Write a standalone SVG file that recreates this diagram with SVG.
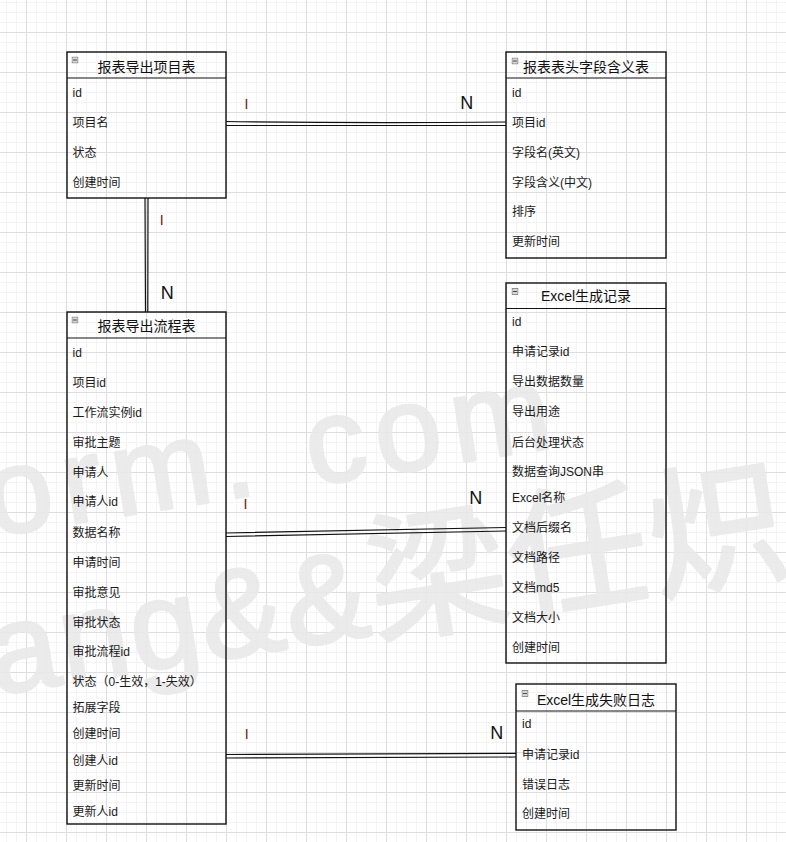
<svg xmlns="http://www.w3.org/2000/svg" xmlns:xlink="http://www.w3.org/1999/xlink" width="786" height="842" viewBox="0 0 786 842">
  <style>
    .txt { font-family: "Liberation Sans", "Noto Sans CJK SC", sans-serif; }
    .box { fill: none; stroke: #111; stroke-width: 1.4; }
    .sep { stroke: #111; stroke-width: 1.2; }
    .title { font-size: 14px; fill: #111; text-anchor: middle; }
    .fld { font-size: 12px; fill: #1a1a1a; }
    .wire { fill: none; stroke: #111; stroke-width: 1.2; }
    .one { font-size: 14px; fill: #6e1a12; text-anchor: middle; }
    .many { font-size: 18px; fill: #111; text-anchor: middle; }
    .wm { font-family: "Liberation Sans", "Noto Sans CJK SC", sans-serif; fill: #e9e9e9; stroke: #e9e9e9; stroke-width: 3; stroke-linejoin: round; opacity: 0.9; }
  </style>
  <defs>
    <pattern id="grid" patternUnits="userSpaceOnUse" x="26" y="32" width="40" height="40">
      <path d="M10.5 0V40M20.5 0V40M30.5 0V40M0 10.5H40M0 20.5H40M0 30.5H40" stroke="#f3f3f3" stroke-width="1" fill="none"/>
      <path d="M0.5 0V40M0 0.5H40" stroke="#dedede" stroke-width="1" fill="none"/>
    </pattern>
    <symbol id="collapse" viewBox="0 0 7 7">
      <rect x="0.5" y="0.5" width="6" height="6" fill="#d6d6d6" stroke="#7a7a7a" stroke-width="0.8"/>
      <path d="M1.6 3.5H5.4" stroke="#333" stroke-width="0.9"/>
    </symbol>
  </defs>

  <!-- canvas -->
  <rect width="786" height="842" fill="#fff"/>
  <rect width="786" height="842" fill="url(#grid)"/>

  <!-- watermark -->
  <g id="watermark" class="wm">
    <text x="-8" y="535" font-size="120" letter-spacing="10" transform="rotate(-9 0 535)">orm. com</text>
    <text x="-5" y="694" font-size="125" letter-spacing="2" transform="rotate(-9 0 694)">ang&amp;&amp;<tspan font-size="140">梁任炽</tspan></text>
  </g>

  <!-- relationships -->
  <g id="connectors">
    <path class="wire" d="M226 121.5Q366 123.5 506 122M226 125.5Q366 125.5 506 125.5"/>
    <path class="wire" d="M145 198L145.5 312M148 198L147.8 312"/>
    <path class="wire" d="M226 533L506 527.5M226 536.5L506 531"/>
    <path class="wire" d="M226 754.5L516 753.3M226 758L516 757"/>
    <g class="txt">
      <text class="one" x="246.5" y="108.5">I</text>
      <text class="many" x="466.7" y="109">N</text>
      <text class="one" x="161.7" y="224.5">I</text>
      <text class="many" x="167.2" y="298.5">N</text>
      <text class="one" x="245.5" y="508.5">I</text>
      <text class="many" x="475.7" y="504">N</text>
      <text class="one" x="246.7" y="738.5">I</text>
      <text class="many" x="496.7" y="739">N</text>
    </g>
  </g>

  <!-- 报表导出项目表 -->
  <g id="project" class="txt">
    <rect class="box" x="67" y="52" width="159" height="146"/>
    <line class="sep" x1="67" y1="78" x2="226" y2="78"/>
    <use xlink:href="#collapse" x="71.5" y="56.5" width="7" height="7"/>
    <text class="title" x="146.5" y="72">报表导出项目表</text>
    <text class="fld" x="72.5" y="97">id</text>
    <text class="fld" x="72.5" y="126.5">项目名</text>
    <text class="fld" x="72.5" y="156.5">状态</text>
    <text class="fld" x="72.5" y="186.5">创建时间</text>
  </g>

  <!-- 报表表头字段含义表 -->
  <g id="header-fields" class="txt">
    <rect class="box" x="506" y="52" width="160" height="206"/>
    <line class="sep" x1="506" y1="78" x2="666" y2="78"/>
    <use xlink:href="#collapse" x="511.5" y="57.5" width="7" height="7"/>
    <text class="title" x="586" y="72">报表表头字段含义表</text>
    <text class="fld" x="512" y="97">id</text>
    <text class="fld" x="512" y="127">项目id</text>
    <text class="fld" x="512" y="157">字段名(英文)</text>
    <text class="fld" x="512" y="186.5">字段含义(中文)</text>
    <text class="fld" x="512" y="215.5">排序</text>
    <text class="fld" x="512" y="246">更新时间</text>
  </g>

  <!-- 报表导出流程表 -->
  <g id="flow" class="txt">
    <rect class="box" x="67" y="312" width="159" height="512"/>
    <line class="sep" x1="67" y1="338" x2="226" y2="338"/>
    <use xlink:href="#collapse" x="71.5" y="316.5" width="7" height="7"/>
    <text class="title" x="146.5" y="331">报表导出流程表</text>
    <text class="fld" x="72.5" y="357">id</text>
    <text class="fld" x="72.5" y="387">项目id</text>
    <text class="fld" x="72.5" y="417">工作流实例id</text>
    <text class="fld" x="72.5" y="446.5">审批主题</text>
    <text class="fld" x="72.5" y="476.5">申请人</text>
    <text class="fld" x="72.5" y="506">申请人id</text>
    <text class="fld" x="72.5" y="537">数据名称</text>
    <text class="fld" x="72.5" y="566.5">申请时间</text>
    <text class="fld" x="72.5" y="597">审批意见</text>
    <text class="fld" x="72.5" y="627">审批状态</text>
    <text class="fld" x="72.5" y="656">审批流程id</text>
    <text class="fld" x="72.5" y="686">状态（0-生效，1-失效）</text>
    <text class="fld" x="72.5" y="712">拓展字段</text>
    <text class="fld" x="72.5" y="738">创建时间</text>
    <text class="fld" x="72.5" y="764.5">创建人id</text>
    <text class="fld" x="72.5" y="789.5">更新时间</text>
    <text class="fld" x="72.5" y="815.5">更新人id</text>
  </g>

  <!-- Excel生成记录 -->
  <g id="excel-record" class="txt">
    <rect class="box" x="506" y="283" width="160" height="380"/>
    <line class="sep" x1="506" y1="308.5" x2="666" y2="308.5"/>
    <use xlink:href="#collapse" x="511.5" y="288" width="7" height="7"/>
    <text class="title" x="586" y="301">Excel生成记录</text>
    <text class="fld" x="512" y="326">id</text>
    <text class="fld" x="512" y="356">申请记录id</text>
    <text class="fld" x="512" y="386">导出数据数量</text>
    <text class="fld" x="512" y="416">导出用途</text>
    <text class="fld" x="512" y="446.5">后台处理状态</text>
    <text class="fld" x="512" y="476">数据查询JSON串</text>
    <text class="fld" x="512" y="501.5">Excel名称</text>
    <text class="fld" x="512" y="531.5">文档后缀名</text>
    <text class="fld" x="512" y="561.5">文档路径</text>
    <text class="fld" x="512" y="591.5">文档md5</text>
    <text class="fld" x="512" y="621.5">文档大小</text>
    <text class="fld" x="512" y="651.5">创建时间</text>
  </g>

  <!-- Excel生成失败日志 -->
  <g id="excel-fail-log" class="txt">
    <rect class="box" x="516" y="684" width="160" height="146"/>
    <line class="sep" x1="516" y1="711" x2="676" y2="711"/>
    <use xlink:href="#collapse" x="521.5" y="690" width="7" height="7"/>
    <text class="title" x="596" y="705">Excel生成失败日志</text>
    <text class="fld" x="522" y="727.5">id</text>
    <text class="fld" x="522" y="758.5">申请记录id</text>
    <text class="fld" x="522" y="788.5">错误日志</text>
    <text class="fld" x="522" y="818">创建时间</text>
  </g>
</svg>
